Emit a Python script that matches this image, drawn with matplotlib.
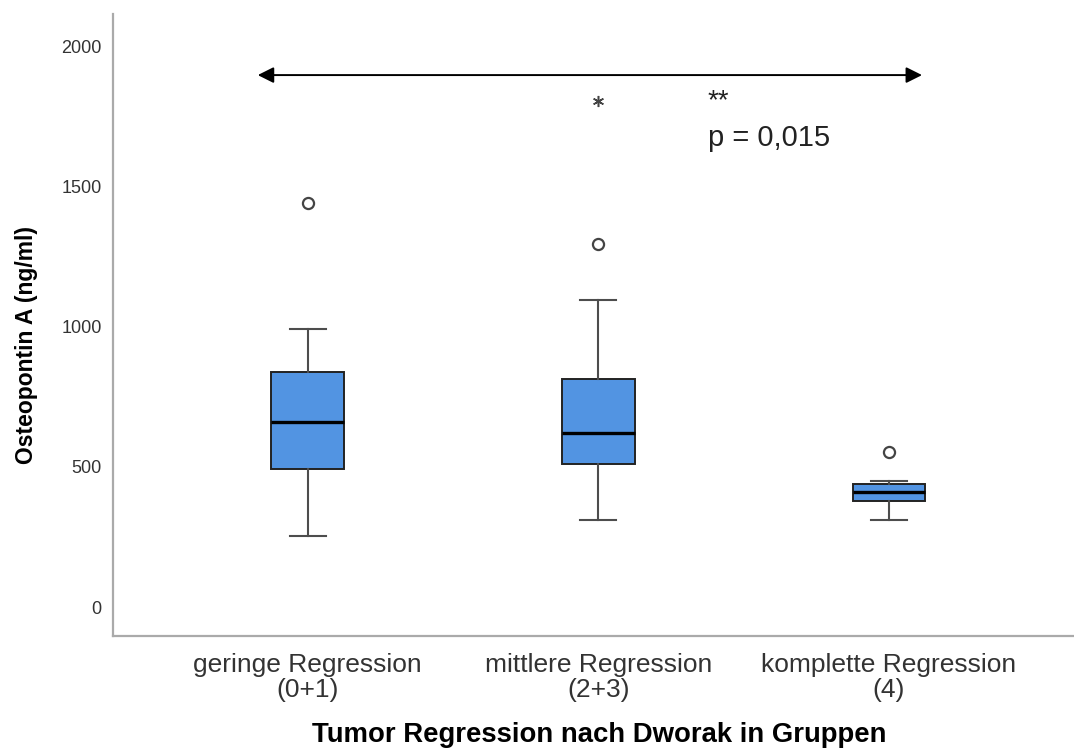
import matplotlib as mpl
mpl.use('Agg')
import matplotlib.pyplot as plt

plt.rcParams['font.family'] = ['Liberation Sans', 'DejaVu Sans']

groups = ['geringe Regression\n(0+1)', 'mittlere Regression\n(2+3)', 'komplette Regression\n(4)']
q1 = [492, 510, 378]
med = [660, 620, 410]
q3 = [838, 813, 438]
wlo = [253, 310, 310]
whi = [991, 1094, 449]
outliers = [[1440], [1294], [553]]
extremes = [[], [1804], []]

stats = []
for i in range(len(groups)):
    stats.append(dict(med=med[i], q1=q1[i], q3=q3[i], whislo=wlo[i], whishi=whi[i],
                      fliers=outliers[i], label=groups[i]))

fig = plt.figure(figsize=(10.74, 7.49), dpi=100)
ax = fig.add_axes([0.105, 0.151, 0.895, 0.830])

pos = list(range(len(groups)))
ax.bxp(stats, positions=pos, widths=0.25, patch_artist=True, capwidths=0.125,
       boxprops=dict(facecolor='#5294e2', edgecolor='#222222', linewidth=1.4),
       medianprops=dict(color='black', linewidth=2.4),
       whiskerprops=dict(color='#4d4d4d', linewidth=1.5),
       capprops=dict(color='#4d4d4d', linewidth=1.5),
       flierprops=dict(marker='o', markersize=8, markerfacecolor='white',
                       markeredgecolor='#444444', markeredgewidth=1.6))

# extreme values drawn as asterisks
for i, ext in enumerate(extremes):
    for v in ext:
        ax.plot(pos[i], v, marker=(6, 2, 0), markersize=8, color='#444444',
                markeredgewidth=1.1, linestyle='none')

ax.set_xlim(-0.671, 2.637)
ax.set_ylim(-103, 2114)
ax.set_yticks([0, 500, 1000, 1500, 2000])
ax.set_xticks(pos)
ax.set_xticklabels(groups, fontsize=19, color='#333333', linespacing=1.05)
ax.tick_params(axis='y', length=0, pad=8, labelsize=13, labelcolor='#333333')
ax.tick_params(axis='x', length=0, pad=12)

for s in ['top', 'right']:
    ax.spines[s].set_visible(False)
for s in ['left', 'bottom']:
    ax.spines[s].set_color('#aaaaaa')
    ax.spines[s].set_linewidth(1.6)

# significance arrow across all groups
ax.annotate('', xy=(2.114, 1897), xytext=(-0.172, 1897),
            arrowprops=dict(arrowstyle='<|-|>', color='black', lw=1.4,
                            mutation_scale=24, shrinkA=0, shrinkB=0))
ax.text(1.377, 1805, '**', fontsize=20, va='center', ha='left', color='#222222')
ax.text(1.377, 1672, 'p = 0,015', fontsize=21, va='center', ha='left', color='#222222')

fig.text(27 / 1074, 1 - 345 / 749, 'Osteopontin A (ng/ml)', rotation=90,
         fontsize=16.5, fontweight='bold', ha='center', va='center')
fig.text(599 / 1074, 1 - 735 / 749, 'Tumor Regression nach Dworak in Gruppen',
         fontsize=19.8, fontweight='bold', ha='center', va='center')

fig.savefig('out.png', dpi=100)
